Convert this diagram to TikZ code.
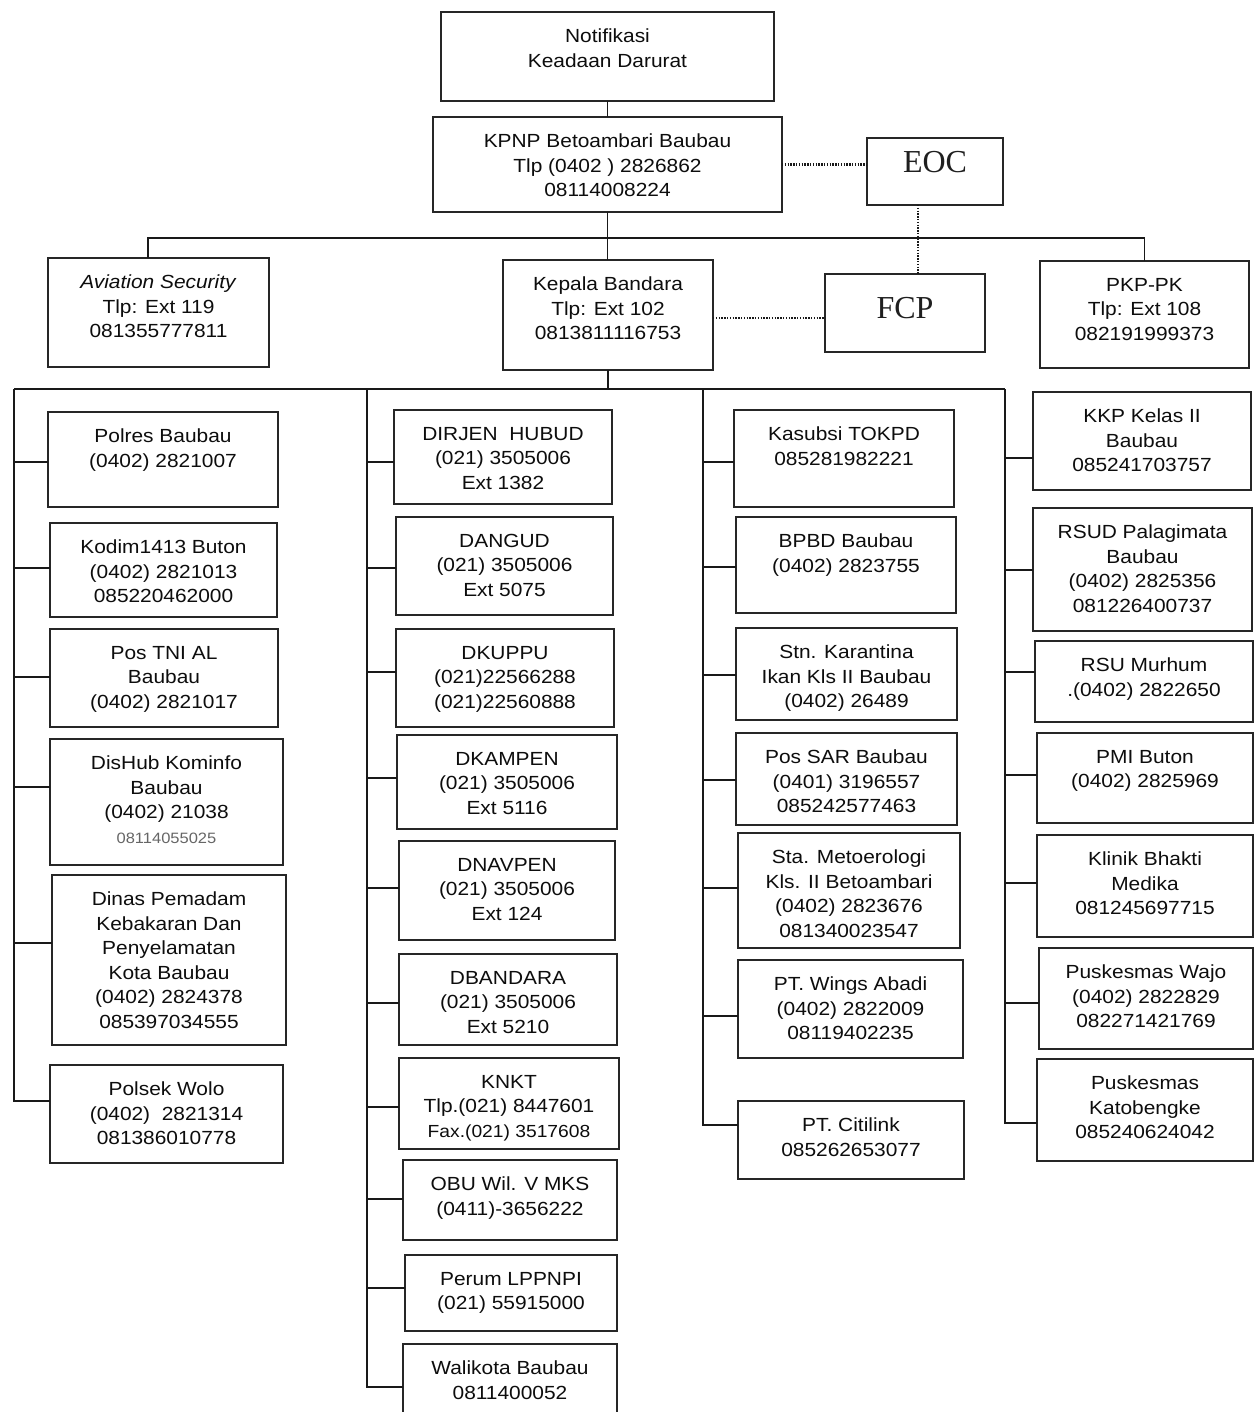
\documentclass[tikz,border=0pt]{standalone}
\usepackage{fontspec}
\setmainfont{Liberation Sans}[FakeStretch=1.1]
\newfontfamily\eocfont{Liberation Serif}
\newcommand\bx[6]{%
  \node[box, minimum width={(#4-#2)*1pt}, minimum height={(#5-#3)*1pt}] (#1) at ({(#2+#4)/2},{(#3+#5)/2}) {};
  \node[txt, anchor=north] (#1t) at ([yshift=-17pt]#1.north) {#6};}
\begin{document}
\begin{tikzpicture}[x=1pt,y=-1pt,
  box/.style={draw=black!85, line width=1.9pt, inner sep=0pt, outer sep=0pt, fill=white},
  txt/.style={inner sep=0pt, align=center, font=\fontsize{19}{24.5}\selectfont, text=black!95},
  conn/.style={line width=1.7pt, draw=black!90},
  dot/.style={line width=2.2pt, draw=black!90, dash pattern=on 1.4pt off 1.4pt}]
\useasboundingbox[fill=white] (0,0) rectangle (1256,1412);

% top section
\bx{notif}{441}{12}{774}{101}{Notifikasi\\Keadaan Darurat}
\bx{kpnp}{433}{117}{782}{212}{KPNP Betoambari Baubau\\Tlp (0402 ) 2826862\\08114008224}
\node[box, minimum width=136pt, minimum height=67pt] (eoc) at (935,171.5) {};
\node[inner sep=0pt, font=\eocfont\fontsize{32}{36}\selectfont, text=black!88] (eoct) at (935,162) {EOC};
\bx{avsec}{48}{258}{269}{367}{\textit{Aviation Security}\\Tlp: Ext 119\\081355777811}
\bx{kepala}{503}{260}{713}{370}{Kepala Bandara\\Tlp: Ext 102\\0813811116753}
\node[box, minimum width=160pt, minimum height=78pt] (fcp) at (905,313) {};
\node[inner sep=0pt, font=\eocfont\fontsize{32}{36}\selectfont, text=black!88] (fcpt) at (905,308) {FCP};
\bx{pkp}{1040}{261}{1249}{368}{PKP-PK\\Tlp: Ext 108\\082191999373}

% column 1
\bx{polres}{48}{412}{278}{507}{Polres Baubau\\(0402) 2821007}
\bx{kodim}{50}{523}{277}{617}{Kodim1413 Buton\\(0402) 2821013\\085220462000}
\bx{postni}{50}{629}{278}{727}{Pos TNI AL\\Baubau\\(0402) 2821017}
\bx{dishub}{50}{739}{283}{865}{DisHub Kominfo\\Baubau\\(0402) 21038\\{\fontsize{15}{24.5}\selectfont\color{black!60}08114055025}}
\bx{dinas}{52}{875}{286}{1045}{Dinas Pemadam\\Kebakaran Dan\\Penyelamatan\\Kota Baubau\\(0402) 2824378\\085397034555}
\bx{polsek}{50}{1065}{283}{1163}{Polsek Wolo\\(0402)~ 2821314\\081386010778}

% column 2
\bx{dirjen}{394}{410}{612}{504}{DIRJEN~ HUBUD\\(021) 3505006\\Ext 1382}
\bx{dangud}{396}{517}{613}{615}{DANGUD\\(021) 3505006\\Ext 5075}
\bx{dkuppu}{396}{629}{614}{727}{DKUPPU\\(021)22566288\\(021)22560888}
\bx{dkampen}{397}{735}{617}{829}{DKAMPEN\\(021) 3505006\\Ext 5116}
\bx{dnavpen}{399}{841}{615}{940}{DNAVPEN\\(021) 3505006\\Ext 124}
\bx{dbandara}{399}{954}{617}{1045}{DBANDARA\\(021) 3505006\\Ext 5210}
\bx{knkt}{399}{1058}{619}{1149}{KNKT\\Tlp.(021) 8447601\\{\fontsize{17.5}{24.5}\selectfont Fax.(021) 3517608}}
\bx{obu}{403}{1160}{617}{1240}{OBU Wil. V MKS\\(0411)-3656222}
\bx{perum}{405}{1255}{617}{1331}{Perum LPPNPI\\(021) 55915000}
\bx{walikota}{403}{1344}{617}{1430}{Walikota Baubau\\0811400052}

% column 3
\bx{kasubsi}{734}{410}{954}{507}{Kasubsi TOKPD\\085281982221}
\bx{bpbd}{736}{517}{956}{613}{BPBD Baubau\\(0402) 2823755}
\bx{stn}{736}{628}{957}{720}{Stn. Karantina\\Ikan Kls II Baubau\\(0402) 26489}
\bx{possar}{736}{733}{957}{825}{Pos SAR Baubau\\(0401) 3196557\\085242577463}
\bx{meteo}{738}{833}{960}{948}{Sta. Metoerologi\\Kls. II Betoambari\\(0402) 2823676\\081340023547}
\bx{wings}{738}{960}{963}{1058}{PT. Wings Abadi\\(0402) 2822009\\08119402235}
\bx{citilink}{738}{1101}{964}{1179}{PT. Citilink\\085262653077}

% column 4
\bx{kkp}{1033}{392}{1251}{490}{KKP Kelas II\\Baubau\\085241703757}
\bx{rsud}{1033}{508}{1252}{631}{RSUD Palagimata\\Baubau\\(0402) 2825356\\081226400737}
\bx{murhum}{1035}{641}{1253}{722}{RSU Murhum\\.(0402) 2822650}
\bx{pmi}{1037}{733}{1253}{823}{PMI Buton\\(0402) 2825969}
\bx{klinik}{1037}{835}{1253}{937}{Klinik Bhakti\\Medika\\081245697715}
\bx{wajo}{1039}{948}{1253}{1049}{Puskesmas Wajo\\(0402) 2822829\\082271421769}
\bx{katob}{1037}{1059}{1253}{1161}{Puskesmas\\Katobengke\\085240624042}

% top connectors
\draw[conn] (notif) -- (kpnp);
\draw[conn] (kpnp.south) -- (kpnp.south |- kepala.north);
\draw[conn] ([xshift=-10.5pt]avsec.north) -- ++(0,-20) -| (pkp.north);
\draw[dot] (kpnp.east) -- (kpnp.east -| eoc.west);
\draw[dot] ([xshift=-17pt]eoc.south) -- ([xshift=-17pt]eoc.south |- fcp.north);
\draw[dot] ([yshift=-3pt]kepala.east) -- ([yshift=-3pt]kepala.east -| fcp.west);

% lower bus
\coordinate (t1) at (14,389);
\coordinate (t2) at (367,389);
\coordinate (t3) at (703,389);
\coordinate (t4) at (1005,389);
\draw[conn] (kepala.south) -- (kepala.south |- t1);
\draw[conn] (t1) -- (t4);

\foreach \n/\s/\t in {polres/-2.5/t1, kodim/2/t1, postni/1/t1, dishub/15/t1, dinas/17/t1, polsek/13/t1,
  dirjen/-5/t2, dangud/-2/t2, dkuppu/6/t2, dkampen/4/t2, dnavpen/2.5/t2, dbandara/-3.5/t2, knkt/-3.5/t2, obu/1/t2, perum/5/t2, walikota/0/t2,
  kasubsi/-3.5/t3, bpbd/-2/t3, stn/-1/t3, possar/-1/t3, meteo/2.5/t3, wings/-7/t3, citilink/15/t3,
  kkp/-17/t4, rsud/-0.5/t4, murhum/9.5/t4, pmi/3/t4, klinik/3/t4, wajo/-4.5/t4, katob/-13/t4}{
  \coordinate (b-\n) at ([yshift=\s pt]\n.west);
  \draw[conn] (b-\n -| \t) -- (b-\n);
}
\draw[conn] (t1) |- (b-polsek);
\draw[conn] (t2) |- (b-walikota);
\draw[conn] (t3) |- (b-citilink);
\draw[conn] (t4) |- (b-katob);
\end{tikzpicture}
\end{document}
